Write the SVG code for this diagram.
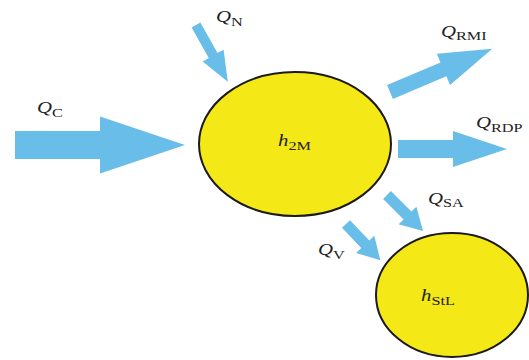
<svg xmlns="http://www.w3.org/2000/svg" width="529" height="360" viewBox="0 0 529 360">
<style>
.arrow{fill:#68bde9;stroke:none}
.node{fill:#f4e816;stroke:#1a1a1a;stroke-width:2}
.lbl{font-family:"Liberation Serif",serif;font-size:16px;font-style:italic;fill:#222}
.sub{font-style:normal;font-size:12.5px}
</style>
<rect width="529" height="360" fill="#fff"/>
<g id="node-h2M">
<ellipse class="node" cx="295" cy="144" rx="96" ry="72"/>
<text class="lbl" transform="translate(278,146) scale(1.3,1)">h<tspan class="sub" dy="4">2M</tspan></text>
</g>
<g id="node-hStL">
<ellipse class="node" cx="452" cy="295" rx="76" ry="62"/>
<text class="lbl" transform="translate(421,301) scale(1.3,1)">h<tspan class="sub" dy="4">StL</tspan></text>
</g>
<g id="connectors">
<g id="QC">
<polygon class="arrow" transform="translate(15,145)" points="0,-14 85,-14 85,-28.5 170,0 85,28.5 85,14 0,14"/>
<text class="lbl" transform="translate(37,113) scale(1.3,1)">Q<tspan class="sub" dy="4">C</tspan></text>
</g>
<g id="QN">
<polygon class="arrow" transform="translate(196,25) rotate(60.7)" points="0,-5 35,-5 35,-12 65,0 35,12 35,5 0,5"/>
<text class="lbl" transform="translate(216,22) scale(1.3,1)">Q<tspan class="sub" dy="4">N</tspan></text>
</g>
<g id="QRMI">
<polygon class="arrow" transform="translate(390,92) rotate(-22.9)" points="0,-7.5 58,-7.5 58,-17 111,0 58,17 58,7.5 0,7.5"/>
<text class="lbl" transform="translate(441,37) scale(1.3,1)">Q<tspan class="sub" dy="3">RMI</tspan></text>
</g>
<g id="QRDP">
<polygon class="arrow" transform="translate(398,149)" points="0,-9 55,-9 55,-18 109,0 55,18 55,9 0,9"/>
<text class="lbl" transform="translate(476,128) scale(1.3,1)">Q<tspan class="sub" dy="4">RDP</tspan></text>
</g>
<g id="QSA">
<polygon class="arrow" transform="translate(387,195) rotate(45)" points="0,-5.5 29,-5.5 29,-12.5 51,0 29,12.5 29,5.5 0,5.5"/>
<text class="lbl" transform="translate(428,204) scale(1.3,1)">Q<tspan class="sub" dy="3">SA</tspan></text>
</g>
<g id="QV">
<polygon class="arrow" transform="translate(346,224) rotate(46.6)" points="0,-5.5 28,-5.5 28,-12.5 50,0 28,12.5 28,5.5 0,5.5"/>
<text class="lbl" transform="translate(318,255) scale(1.3,1)">Q<tspan class="sub" dy="4">V</tspan></text>
</g>
</g>
</svg>
